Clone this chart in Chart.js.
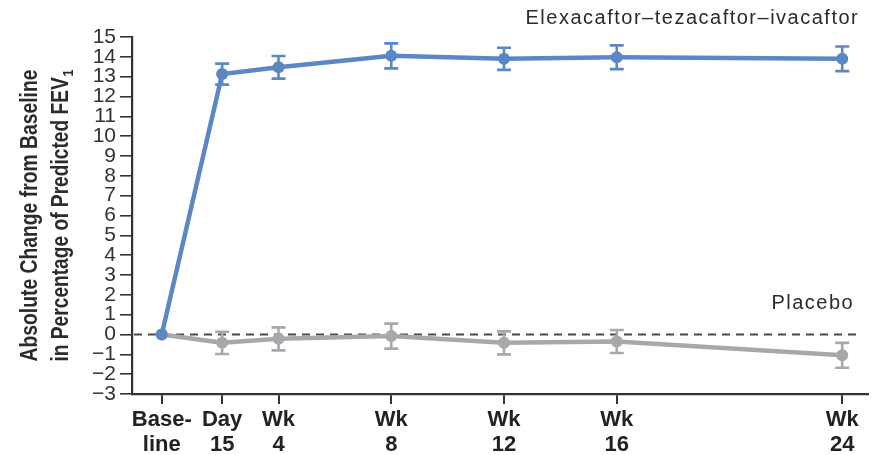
<!DOCTYPE html>
<html>
<head>
<meta charset="utf-8">
<script src="https://cdn.jsdelivr.net/npm/chart.js@4"></script>
<style>
  html, body { margin: 0; padding: 0; background: #fff; }
  #wrap { width: 874px; height: 455px; }
</style>
</head>
<body>
<div id="wrap"><canvas id="c" width="874" height="455"></canvas></div>
<script>
// Study visits (day of study) and their axis labels
const visitDays = [0, 15, 29, 57, 85, 113, 169];
const visitLabels = [['Base-', 'line'], ['Day', '15'], ['Wk', '4'], ['Wk', '8'], ['Wk', '12'], ['Wk', '16'], ['Wk', '24']];

// Mean absolute change in percent predicted FEV1, with error half-widths
const etiMeans = [0, 13.13, 13.47, 14.05, 13.9, 13.98, 13.9];
const etiErrors = [0, 0.53, 0.57, 0.63, 0.56, 0.6, 0.62];
const placeboMeans = [0, -0.42, -0.22, -0.08, -0.42, -0.35, -1.05];
const placeboErrors = [0, 0.56, 0.58, 0.63, 0.58, 0.58, 0.63];

const seriesNames = ['Elexacaftor\u2013tezacaftor\u2013ivacaftor', 'Placebo'];
const yTitleLines = ['Absolute Change from Baseline', 'in Percentage of Predicted FEV'];
const yTitleSub = '1';

const BLUE = '#5B87C5';
const GREY = '#A7A8AB';
const INK = '#333333';

const toPoints = (means) => visitDays.map((d, i) => ({ x: d, y: means[i] }));

// Dashed reference line at zero change
const zeroLine = {
  id: 'zeroLine',
  beforeDatasetsDraw(chart) {
    const { ctx, chartArea, scales } = chart;
    const y = scales.y.getPixelForValue(0);
    ctx.save();
    ctx.strokeStyle = '#4a4a4a';
    ctx.lineWidth = 1.8;
    ctx.setLineDash([8, 6]);
    ctx.beginPath();
    ctx.moveTo(chartArea.left + 2, y);
    ctx.lineTo(chartArea.right - 6, y);
    ctx.stroke();
    ctx.restore();
  }
};

// Vertical error bars with caps, drawn with each dataset
const errorBars = {
  id: 'errorBars',
  afterDatasetDraw(chart, args) {
    const ds = chart.data.datasets[args.index];
    if (!ds.errors) return;
    const { ctx, scales } = chart;
    ctx.save();
    ctx.strokeStyle = ds.borderColor;
    ctx.lineWidth = 2.6;
    ds.data.forEach((p, i) => {
      const e = ds.errors[i];
      if (!e) return;
      const x = scales.x.getPixelForValue(p.x);
      const yTop = scales.y.getPixelForValue(p.y + e);
      const yBot = scales.y.getPixelForValue(p.y - e);
      ctx.beginPath();
      ctx.moveTo(x, yTop); ctx.lineTo(x, yBot);
      ctx.moveTo(x - 7, yTop); ctx.lineTo(x + 7, yTop);
      ctx.moveTo(x - 7, yBot); ctx.lineTo(x + 7, yBot);
      ctx.stroke();
    });
    ctx.restore();
  }
};

// Series names and the rotated y-axis title
const annotations = {
  id: 'annotations',
  afterDraw(chart) {
    const { ctx, chartArea, scales } = chart;
    const xEnd = scales.x.getPixelForValue(visitDays[visitDays.length - 1]);
    ctx.save();
    ctx.fillStyle = '#2b2b2b';
    ctx.font = '20px "Liberation Sans", Arial, sans-serif';
    ctx.letterSpacing = '1.5px';
    ctx.textAlign = 'right';
    ctx.textBaseline = 'alphabetic';
    ctx.fillText(seriesNames[0], xEnd + 17, chartArea.top - 13);
    ctx.fillText(seriesNames[1], xEnd + 12, scales.y.getPixelForValue(0) - 26);
    ctx.restore();

    // y-axis title: condensed semibold lettering, two lines, FEV with subscript 1
    ctx.save();
    ctx.fillStyle = '#2b2b2b';
    const font = 'bold 23px "Liberation Sans", Arial, sans-serif';
    const subFont = 'bold 15px "Liberation Sans", Arial, sans-serif';
    const cy = (chartArea.top + chartArea.bottom) / 2;
    const titleLength = 292;
    ctx.textBaseline = 'alphabetic';
    ctx.font = font;
    const w0 = ctx.measureText(yTitleLines[0]).width;
    const w1 = ctx.measureText(yTitleLines[1]).width;
    ctx.font = subFont;
    const w2 = ctx.measureText(yTitleSub).width;
    ctx.translate(0, cy);
    ctx.rotate(-Math.PI / 2);
    // line 1
    ctx.save();
    ctx.translate(0, 37);
    ctx.scale(titleLength / w0, 1);
    ctx.font = font;
    ctx.textAlign = 'center';
    ctx.fillText(yTitleLines[0], 0, 0);
    ctx.restore();
    // line 2
    ctx.save();
    const total = w1 + w2 + 1;
    ctx.translate(0, 68);
    ctx.scale(titleLength / total, 1);
    ctx.textAlign = 'left';
    ctx.font = font;
    ctx.fillText(yTitleLines[1], -total / 2, 0);
    ctx.font = subFont;
    ctx.fillText(yTitleSub, -total / 2 + w1 + 1, 5);
    ctx.restore();
    ctx.restore();
  }
};

new Chart(document.getElementById('c'), {
  type: 'line',
  data: {
    datasets: [
      {
        label: seriesNames[0],
        data: toPoints(etiMeans),
        errors: etiErrors,
        borderColor: BLUE,
        backgroundColor: BLUE,
        pointBackgroundColor: BLUE,
        borderWidth: 4.5,
        pointRadius: 6,
        pointBorderWidth: 0,
        tension: 0,
        order: 0
      },
      {
        label: seriesNames[1],
        data: toPoints(placeboMeans),
        errors: placeboErrors,
        borderColor: GREY,
        backgroundColor: GREY,
        pointBackgroundColor: GREY,
        borderWidth: 4.5,
        pointRadius: 6,
        pointBorderWidth: 0,
        tension: 0,
        order: 1
      }
    ]
  },
  options: {
    responsive: false,
    animation: false,
    devicePixelRatio: 1,
    layout: { padding: { top: 37, right: 0, left: 0, bottom: 0 } },
    plugins: { legend: { display: false }, tooltip: { enabled: false } },
    scales: {
      x: {
        type: 'linear',
        min: -7.39,
        max: 175.4,
        afterBuildTicks(scale) {
          scale.ticks = visitDays.map(v => ({ value: v }));
        },
        afterFit(scale) { scale.height = 61; },
        border: { color: INK, width: 2.2 },
        grid: { drawOnChartArea: false, drawTicks: true, tickLength: 10, color: INK, lineWidth: 2 },
        ticks: {
          autoSkip: false,
          maxRotation: 0,
          padding: 3,
          color: '#222',
          font: { family: '"Liberation Sans", Arial, sans-serif', size: 22, weight: 'bold', lineHeight: 1.15 },
          callback: (v) => {
            const i = visitDays.indexOf(v);
            return i >= 0 ? visitLabels[i] : '';
          }
        }
      },
      y: {
        min: -3,
        max: 15,
        afterFit(scale) { scale.width = 132; },
        border: { color: INK, width: 2.2 },
        grid: { drawOnChartArea: false, drawTicks: true, tickLength: 12, color: INK, lineWidth: 1.6 },
        ticks: {
          stepSize: 1,
          autoSkip: false,
          padding: 4,
          color: '#333',
          font: { family: '"Liberation Sans", Arial, sans-serif', size: 21, lineHeight: 0.9 },
          callback: (v) => (v < 0 ? '\u2212' + Math.abs(v) : String(v))
        }
      }
    }
  },
  plugins: [zeroLine, errorBars, annotations]
});
</script>
</body>
</html>
